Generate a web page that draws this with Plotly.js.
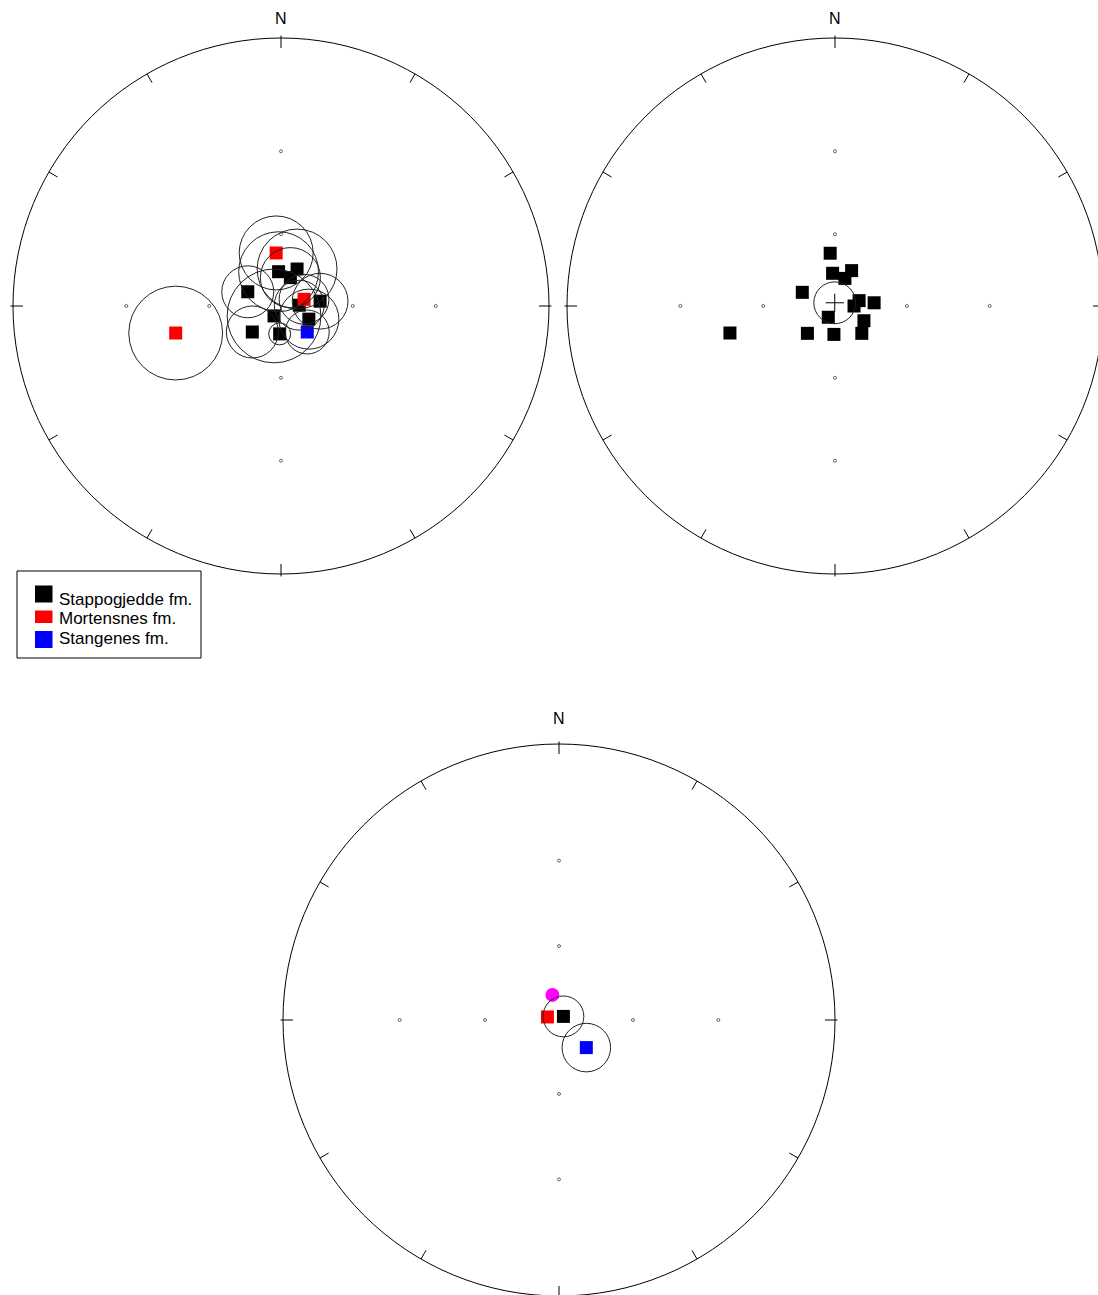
<!DOCTYPE html>
<html>
<head>
<meta charset="utf-8">
<script src="https://cdn.plot.ly/plotly-3.0.1.min.js"></script>
<style>html,body{margin:0;padding:0;background:#fff;}#chart{width:1098px;height:1295px;}</style>
</head>
<body>
<div id="chart"></div>
<script>
// ---------- DATA (stereographic projection, east / north, primitive radius = 1) ----------
// Panel 1: site mean directions with alpha95 circles
const stapX   = [-0.009, 0.060, 0.035, -0.124, 0.068, 0.146, -0.026, 0.104, -0.107, -0.005];
const stapY   = [ 0.128, 0.138, 0.106,  0.053, 0.003, 0.018, -0.037, -0.049, -0.097, -0.104];
const stapA95 = [ 0.149, 0.149, 0.112,  0.097, 0.093, 0.104,  0.175,  0.112,  0.097,  0.041];
const mortX   = [-0.018, 0.086, -0.393];
const mortY   = [ 0.198, 0.025, -0.101];
const mortA95 = [ 0.138, 0.093,  0.175];
const stangX  = [0.098];
const stangY  = [-0.097];
const stangA95 = [0.082];
// Panel 2: all site directions and their overall mean
const allX = [-0.018, -0.009, 0.062, 0.037, -0.122, 0.090, 0.071, 0.146, -0.025, 0.108, -0.103, -0.004, 0.100, -0.392];
const allY = [ 0.197,  0.122, 0.132, 0.103,  0.051, 0.020, 0.000, 0.012, -0.042, -0.055, -0.102, -0.106, -0.102, -0.101];
const meanAllX = [-0.001], meanAllY = [0.012], meanAllA95 = [0.078];
// Panel 3: formation means
const fmStapX = [0.016],  fmStapY = [0.013],  fmStapA95 = [0.074];
const fmMortX = [-0.042], fmMortY = [0.011];
const fmStangX = [0.099], fmStangY = [-0.100], fmStangA95 = [0.088];
const grandX = [-0.024], grandY = [0.091];
const legendNames  = ["Stappogjedde fm.", "Mortensnes fm.", "Stangenes fm."];
const legendColors = ["#000000", "#ff0000", "#0000ff"];

// ---------- LAYOUT GEOMETRY ----------
const W = 1098, H = 1295;
const FONT = 'Liberation Sans, Arial, sans-serif';
const panels = [
  {cx: 281, cy: 306,  R: 268, xr: [-1.03, 1.03],           yr: [-1.1, 1.1], nY: 18},
  {cx: 835, cy: 306,  R: 268, xr: [-1.03, (W - 835) / 268], yr: [-1.1, 1.1], nY: 18},
  {cx: 559, cy: 1020, R: 276, xr: [-1.05, 1.05],           yr: [-(H - 1020) / 276, 1.2], nY: 718}
];

const layout = {
  width: W, height: H,
  margin: {l: 0, r: 0, t: 0, b: 0},
  paper_bgcolor: '#fff', plot_bgcolor: 'rgba(0,0,0,0)',
  showlegend: false,
  shapes: [], annotations: []
};

const traces = [];
const axName = i => (i === 0 ? '' : String(i + 1));
const px = v => v / W, py = v => 1 - v / H;

panels.forEach((p, i) => {
  const a = axName(i);
  const x0 = (p.cx + p.xr[0] * p.R) / W, x1 = (p.cx + p.xr[1] * p.R) / W;
  const top = p.cy - p.yr[1] * p.R, bot = p.cy - p.yr[0] * p.R;
  const ax = {range: p.xr, domain: [Math.max(0, x0), Math.min(1, x1)], visible: false, fixedrange: true, showgrid: false, zeroline: false};
  const ay = {range: p.yr, domain: [Math.max(0, 1 - bot / H), Math.min(1, 1 - top / H)], visible: false, fixedrange: true, showgrid: false, zeroline: false};
  layout['xaxis' + a] = Object.assign({anchor: 'y' + a}, ax);
  layout['yaxis' + a] = Object.assign({anchor: 'x' + a}, ay);
  const xref = 'x' + a, yref = 'y' + a;
  // primitive circle
  layout.shapes.push({type: 'circle', xref, yref, x0: -1, x1: 1, y0: -1, y1: 1, line: {color: '#000', width: 1}});
  // azimuth ticks every 30 deg
  const tin = 10 / p.R, tout = 2.5 / p.R;
  for (let az = 0; az < 360; az += 30) {
    const t = az * Math.PI / 180, s = Math.sin(t), c = Math.cos(t);
    const r0 = (az % 90 === 0) ? 1 + tout : 1;
    layout.shapes.push({type: 'line', xref, yref, x0: r0 * s, y0: r0 * c, x1: (1 - tin) * s, y1: (1 - tin) * c, line: {color: '#000', width: 1}});
  }
  // N label
  layout.annotations.push({xref: 'paper', yref: 'paper', x: px(p.cx), y: py(p.nY), xanchor: 'center', yanchor: 'middle',
    text: 'N', showarrow: false, font: {family: FONT, size: 16, color: '#000'}});
  // grid dots at inclination 60 and 30 degrees along the cardinal directions
  const gx = [], gy = [];
  [60, 30].forEach(inc => {
    const r = Math.tan((90 - inc) / 2 * Math.PI / 180);
    gx.push(0, r, 0, -r); gy.push(r, 0, -r, 0);
  });
  traces.push({x: gx, y: gy, xaxis: xref, yaxis: yref, mode: 'markers', showlegend: false, hoverinfo: 'skip',
    marker: {symbol: 'circle-open', size: 3, color: '#666', line: {width: 1, color: '#666'}}});
});

function a95Circles(xs, ys, rs, xref, yref) {
  xs.forEach((x, k) => {
    layout.shapes.push({type: 'circle', xref, yref, x0: x - rs[k], x1: x + rs[k], y0: ys[k] - rs[k], y1: ys[k] + rs[k],
      line: {color: '#222', width: 1}, layer: 'above'});
  });
}
function squares(xs, ys, color, xref, yref, name) {
  traces.push({x: xs, y: ys, xaxis: xref, yaxis: yref, mode: 'markers', name: name, showlegend: false,
    marker: {symbol: 'square', size: 13, color: color, line: {width: 0}}});
}

// Panel 1
a95Circles(stapX, stapY, stapA95, 'x', 'y');
a95Circles(mortX, mortY, mortA95, 'x', 'y');
a95Circles(stangX, stangY, stangA95, 'x', 'y');
squares(stapX, stapY, legendColors[0], 'x', 'y', legendNames[0]);
squares(mortX, mortY, legendColors[1], 'x', 'y', legendNames[1]);
squares(stangX, stangY, legendColors[2], 'x', 'y', legendNames[2]);

// Panel 2
squares(allX, allY, '#000', 'x2', 'y2', 'sites');
a95Circles(meanAllX, meanAllY, meanAllA95, 'x2', 'y2');
traces.push({x: meanAllX, y: meanAllY, xaxis: 'x2', yaxis: 'y2', mode: 'markers', showlegend: false,
  marker: {symbol: 'cross-thin-open', size: 13, color: '#000', line: {width: 1, color: '#000'}}});

// Panel 3
a95Circles(fmStapX, fmStapY, fmStapA95, 'x3', 'y3');
a95Circles(fmStangX, fmStangY, fmStangA95, 'x3', 'y3');
squares(fmStapX, fmStapY, legendColors[0], 'x3', 'y3', legendNames[0]);
squares(fmMortX, fmMortY, legendColors[1], 'x3', 'y3', legendNames[1]);
squares(fmStangX, fmStangY, legendColors[2], 'x3', 'y3', legendNames[2]);
traces.push({x: grandX, y: grandY, xaxis: 'x3', yaxis: 'y3', mode: 'markers', showlegend: false,
  marker: {symbol: 'circle', size: 14, color: '#ff00ff', line: {width: 0}}});

// Legend box (drawn in page coordinates)
layout.shapes.push({type: 'rect', xref: 'paper', yref: 'paper', x0: px(17), x1: px(201), y0: py(571), y1: py(658),
  line: {color: '#000', width: 1}, fillcolor: '#fff', layer: 'above'});
const legRows = [
  {sq: [585.5, 602.5], ty: 599},
  {sq: [610.5, 623],   ty: 618.5},
  {sq: [631, 648],     ty: 638.5}
];
legendNames.forEach((nm, k) => {
  const r = legRows[k];
  layout.shapes.push({type: 'rect', xref: 'paper', yref: 'paper', x0: px(35), x1: px(52.5), y0: py(r.sq[1]), y1: py(r.sq[0]),
    line: {width: 0}, fillcolor: legendColors[k], layer: 'above'});
  layout.annotations.push({xref: 'paper', yref: 'paper', x: px(56.5), y: py(r.ty), xanchor: 'left', yanchor: 'middle',
    text: nm, showarrow: false, font: {family: FONT, size: 17, color: '#000'}});
});

Plotly.newPlot('chart', traces, layout, {displayModeBar: false, staticPlot: true});
</script>
</body>
</html>
